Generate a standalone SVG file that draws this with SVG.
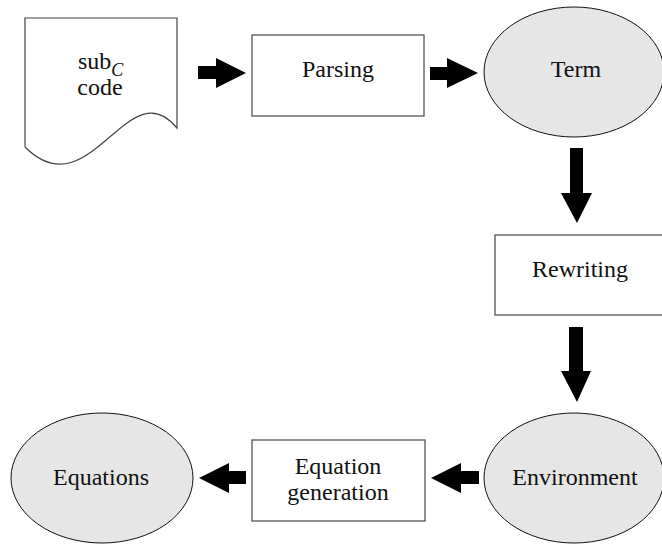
<svg xmlns="http://www.w3.org/2000/svg" width="662" height="546" viewBox="0 0 662 546">
<style>
.t{font-family:"Liberation Serif","Times New Roman","DejaVu Serif",serif;font-size:24px;fill:#111;text-anchor:middle}
.box{fill:#fff;stroke:#555;stroke-width:1.3}
.ell{fill:#e6e6e6;stroke:#111;stroke-width:1}
.doc{fill:#fff;stroke:#444;stroke-width:1.2}
.arr{fill:#000}
</style>
<rect width="662" height="546" fill="#fff"/>
<g id="code">
<path class="doc" d="M25,18 H177 V128 C128,68 90,212 25,147 Z"/>
<text class="t" x="78" y="69" style="text-anchor:start">sub<tspan dy="7" style="font-size:18px;font-style:italic">C</tspan></text>
<text class="t" x="100" y="95">code</text>
</g>
<g id="parsing">
<rect class="box" x="252" y="35" width="172" height="81"/>
<text class="t" x="338" y="77">Parsing</text>
</g>
<g id="term">
<ellipse class="ell" cx="574" cy="72" rx="90" ry="65"/>
<text class="t" x="576" y="77">Term</text>
</g>
<g id="rewriting">
<rect class="box" x="495" y="235" width="172" height="80"/>
<text class="t" x="580" y="277">Rewriting</text>
</g>
<g id="environment">
<ellipse class="ell" cx="574" cy="478" rx="90" ry="65"/>
<text class="t" x="575" y="485">Environment</text>
</g>
<g id="equation-generation">
<rect class="box" x="252" y="440" width="173" height="81"/>
<text class="t" x="338" y="474">Equation</text>
<text class="t" x="338" y="500">generation</text>
</g>
<g id="equations">
<ellipse class="ell" cx="102" cy="478" rx="91" ry="65"/>
<text class="t" x="101" y="485">Equations</text>
</g>
<g id="connectors">
<polygon class="arr" points="198,66 216,66 216,58 246,73 216,88 216,79 198,79"/>
<polygon class="arr" points="430,67 447,67 447,58 478,73 447,88 447,80 430,80"/>
<polygon class="arr" points="570,148 583,148 583,193 592,193 577,223 561,193 570,193"/>
<polygon class="arr" points="569,327 583,327 583,371 591,371 577,402 561,371 569,371"/>
<polygon class="arr" points="479,471 479,484 461,484 461,493 431,478 461,463 461,471"/>
<polygon class="arr" points="246,471 246,484 229,484 229,493 199,478 229,463 229,471"/>
</g>
</svg>
